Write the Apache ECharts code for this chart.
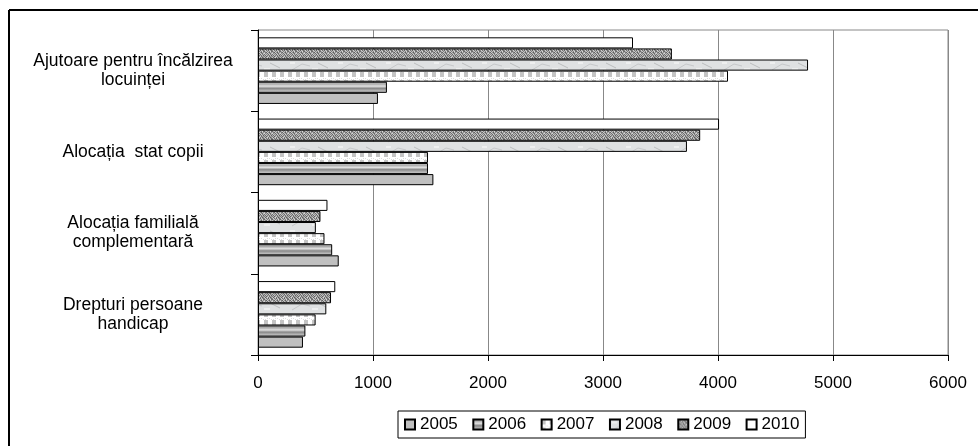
<!DOCTYPE html>
<html>
<head>
<meta charset="utf-8">
<script src="https://cdn.jsdelivr.net/npm/echarts@6/dist/echarts.min.js"></script>
<style>
html,body{margin:0;padding:0;background:#fff;}
#chart{width:978px;height:446px;}
</style>
</head>
<body>
<div id="chart"></div>
<script>
// Categories listed bottom -> top (ECharts category y-axis starts at bottom)
const categories = [
  'Drepturi persoane\nhandicap',
  'Alocația familială\ncomplementară',
  'Alocația  stat copii',
  'Ajutoare pentru încălzirea\nlocuinței'
];
const years = ['2005', '2006', '2007', '2008', '2009', '2010'];
// values per year, in the same order as categories
const v2005 = [391, 702, 1525, 1043];
const v2006 = [412, 645, 1478, 1121];
const v2007 = [501, 578, 1478, 4087];
const v2008 = [594, 503, 3730, 4783];
const v2009 = [635, 543, 3845, 3599];
const v2010 = [672, 604, 4009, 3261];
const xTicks = [0, 1000, 2000, 3000, 4000, 5000, 6000];

function tile(w, h, draw) {
  const c = document.createElement('canvas');
  c.width = w; c.height = h;
  draw(c.getContext('2d'));
  return { image: c, repeat: 'repeat' };
}
const fill2005 = '#c0c0c0';
const fill2006 = {
  type: 'linear', x: 0, y: 0, x2: 0, y2: 1,
  colorStops: [
    { offset: 0, color: '#d4d4d4' },
    { offset: 0.2, color: '#a8a8a8' },
    { offset: 0.4, color: '#e2e2e2' },
    { offset: 0.6, color: '#888888' },
    { offset: 0.8, color: '#b4b4b4' },
    { offset: 1, color: '#d0d0d0' }
  ]
};
const fill2007 = tile(8, 8, function (ctx) {
  ctx.fillStyle = '#ffffff'; ctx.fillRect(0, 0, 8, 8);
  ctx.fillStyle = '#c4c4c4'; ctx.fillRect(0, 0, 4, 5);
  ctx.fillStyle = '#dcdcdc';
  ctx.fillRect(5, 6, 1, 1); ctx.fillRect(1, 7, 1, 1); ctx.fillRect(3, 6, 1, 1); ctx.fillRect(7, 7, 1, 1);
});
const fill2008 = tile(48, 12, function (ctx) {
  ctx.fillStyle = '#dfe1e2'; ctx.fillRect(0, 0, 48, 12);
  ctx.strokeStyle = '#c6c8ca'; ctx.lineWidth = 1;
  ctx.beginPath(); ctx.moveTo(4, 10); ctx.lineTo(14, 4); ctx.lineTo(22, 6); ctx.stroke();
  ctx.strokeStyle = '#bcbebf';
  ctx.beginPath(); ctx.moveTo(30, 3); ctx.lineTo(40, 8); ctx.stroke();
  ctx.fillStyle = '#eeefef'; ctx.fillRect(24, 8, 6, 2); ctx.fillRect(2, 2, 5, 2);
});
const fill2009 = tile(8, 8, function (ctx) {
  const m = [
    '#7a7a7a', '#b8b8b8', '#5e5e5e', '#a4a4a4', '#cfcfcf', '#6c6c6c', '#9c9c9c', '#a0a0a0',
    '#c4c4c4', '#646464', '#a8a8a8', '#d8d8d8', '#767676', '#b4b4b4', '#5a5a5a', '#909090',
    '#8a8a8a', '#d0d0d0', '#707070', '#b0b0b0', '#606060', '#c8c8c8', '#9e9e9e', '#6a6a6a',
    '#666666', '#acacac', '#c6c6c6', '#7e7e7e', '#bcbcbc', '#868686', '#dadada', '#747474',
    '#bababa', '#7c7c7c', '#626262', '#cccccc', '#929292', '#5c5c5c', '#b6b6b6', '#8e8e8e',
    '#d4d4d4', '#888888', '#b2b2b2', '#6e6e6e', '#c2c2c2', '#969696', '#686868', '#c0c0c0',
    '#727272', '#c4c4c4', '#8c8c8c', '#b8b8b8', '#646464', '#d2d2d2', '#808080', '#aaaaaa',
    '#b4b4b4', '#6a6a6a', '#cacaca', '#7a7a7a', '#a8a8a8', '#767676', '#bebebe', '#5e5e5e'
  ];
  for (let i = 0; i < 64; i++) { ctx.fillStyle = m[i]; ctx.fillRect(i % 8, Math.floor(i / 8), 1, 1); }
});
const fill2010 = '#ffffff';

const fills = [fill2005, fill2006, fill2007, fill2008, fill2009, fill2010];
const values = [v2005, v2006, v2007, v2008, v2009, v2010];

// series added 2010 -> 2005 so that 2010 sits at the top of each group
const series = years.map(function (y, i) {
  return {
    name: y,
    type: 'bar',
    data: values[i],
    barGap: '0%',
    barCategoryGap: '18%',
    itemStyle: { color: fills[i], borderColor: '#000', borderWidth: 1 },
    emphasis: { disabled: true },
    animation: false
  };
}).reverse();

const chart = echarts.init(document.getElementById('chart'), null, { renderer: 'canvas' });
chart.setOption({
  backgroundColor: '#ffffff',
  animation: false,
  textStyle: { fontFamily: 'Liberation Sans, Arial, sans-serif' },
  graphic: [
    { type: 'line', shape: { x1: 9, y1: 10, x2: 978, y2: 10 }, style: { stroke: '#000', lineWidth: 2 } },
    { type: 'line', shape: { x1: 9, y1: 10, x2: 9, y2: 446 }, style: { stroke: '#000', lineWidth: 2 } }
  ],
  grid: {
    left: 258, right: 30, top: 30, bottom: 91,
    show: true, borderColor: '#888888', borderWidth: 1,
    containLabel: false
  },
  legend: {
    data: years,
    left: 398, top: 411,
    itemWidth: 10, itemHeight: 10, itemGap: 14.5,
    padding: [5, 6, 5, 6],
    borderColor: '#000', borderWidth: 1,
    icon: 'rect',
    textStyle: { fontSize: 17, color: '#000', fontFamily: 'Liberation Sans, Arial, sans-serif' },
    selectedMode: false
  },
  xAxis: {
    type: 'value',
    min: 0, max: 6000, interval: 1000,
    axisLine: { show: true, lineStyle: { color: '#000', width: 1 } },
    axisTick: { show: true, length: 6, lineStyle: { color: '#000' } },
    axisLabel: {
      color: '#000', fontSize: 17, margin: 20,
      formatter: function (v) { return xTicks.indexOf(v) >= 0 ? String(v) : ''; }
    },
    splitLine: { show: true, lineStyle: { color: '#888888', width: 1 } }
  },
  yAxis: {
    type: 'category',
    data: categories,
    axisLine: { show: true, lineStyle: { color: '#000', width: 1 } },
    axisTick: { show: true, length: 7, lineStyle: { color: '#000' } },
    axisLabel: {
      color: '#000', fontSize: 17.5, lineHeight: 19, align: 'center', margin: 125
    },
    splitLine: { show: false }
  },
  series: series
});
</script>
</body>
</html>
